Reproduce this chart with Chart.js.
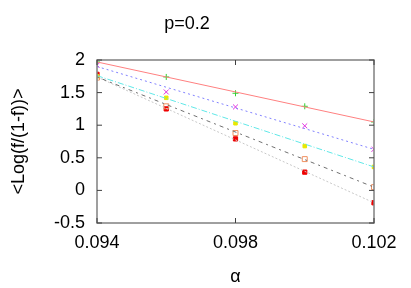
<html>
<head>
  <script src="https://cdn.jsdelivr.net/npm/chart.js@4.4.0/dist/chart.umd.min.js"></script>
  <style>
    body { margin: 0; background: #fff; }
    #wrap { width: 411px; height: 288px; }
  </style>
</head>
<body>
  <div id="wrap"><canvas id="myChart" width="411" height="288"></canvas></div>
</body>
<script>
  // alpha values where points were measured
  const alphas = [0.094, 0.096, 0.098, 0.100, 0.102];
  // measured <Log(f/(1-f))> per series
  const seriesA = [1.97, 1.74, 1.49, 1.29, 1.05];
  const seriesB = [1.92, 1.51, 1.28, 0.99, 0.63];
  const seriesC = [1.75, 1.42, 1.03, 0.68, 0.36];
  const seriesD = [1.73, 1.29, 0.88, 0.48, 0.05];
  const seriesE = [1.78, 1.25, 0.79, 0.28, -0.19];
  // fitted lines: value at alpha=0.094 and alpha=0.102
  const fitEnds = [0.094, 0.102];
  const fitA = [1.97, 1.05];
  const fitB = [1.90, 0.63];
  const fitC = [1.76, 0.36];
  const fitD = [1.74, 0.05];
  const fitE = [1.74, -0.19];
  const xTicks = [0.094, 0.098, 0.102];

  const pts = (xs, ys) => xs.map((x, i) => ({ x: x, y: ys[i] }));

  const fitLine = (ys, color, dash) => ({
    data: pts(fitEnds, ys), showLine: true, pointRadius: 0,
    borderColor: color, borderWidth: 1, borderDash: dash, fill: false
  });
  const markers = (ys, style, color, fillColor, r) => ({
    data: pts(alphas, ys), showLine: false, pointStyle: style,
    pointRadius: r, borderColor: color, backgroundColor: fillColor, pointBorderWidth: 1
  });

  // gnuplot style frame with inward ticks
  const framePlugin = {
    id: 'frame',
    afterDatasetsDraw(chart) {
      const c = chart.ctx, a = chart.chartArea;
      const xs = chart.scales.x, ys = chart.scales.y;
      c.save();
      c.strokeStyle = '#808080';
      c.lineWidth = 1.5;
      c.strokeRect(a.left, a.top, a.right - a.left, a.bottom - a.top);
      c.lineWidth = 1;
      c.strokeStyle = '#404040';
      ys.ticks.forEach(t => {
        const p = ys.getPixelForValue(t.value);
        c.beginPath();
        c.moveTo(a.left, p); c.lineTo(a.left + 5, p);
        c.moveTo(a.right, p); c.lineTo(a.right - 5, p);
        c.stroke();
      });
      xTicks.forEach(v => {
        const p = xs.getPixelForValue(v);
        c.beginPath();
        c.moveTo(p, a.bottom); c.lineTo(p, a.bottom - 5);
        c.moveTo(p, a.top); c.lineTo(p, a.top + 5);
        c.stroke();
      });
      c.restore();
    }
  };

  const font = { family: 'Liberation Sans', size: 18 };
  const ctx = document.getElementById('myChart').getContext('2d');
  new Chart(ctx, {
    type: 'scatter',
    data: {
      datasets: [
        fitLine(fitA, '#ff8080', []),
        fitLine(fitB, '#8080ff', [2, 3]),
        fitLine(fitC, '#60e8e8', [6, 2, 1, 2]),
        fitLine(fitD, '#707070', [2, 4, 4, 4]),
        fitLine(fitE, '#c8c8c8', [2, 2]),
        markers(seriesA, 'cross', '#30d030', '#30d030', 3),
        markers(seriesB, 'crossRot', '#e030e0', '#e030e0', 3.5),
        markers(seriesC, 'rect', '#e8e800', '#e8e800', 2.5),
        markers(seriesD, 'rect', '#f09060', 'rgba(0,0,0,0)', 3.5),
        markers(seriesE, 'rect', '#ee0000', '#ee0000', 3)
      ]
    },
    options: {
      animation: false,
      responsive: false,
      layout: { padding: { left: 0, right: 37, top: 0, bottom: 0 } },
      plugins: {
        legend: { display: false },
        tooltip: { enabled: false },
        title: {
          display: true, text: 'p=0.2', color: '#000',
          font: { family: 'Liberation Sans', size: 18, weight: 'normal' },
          padding: { top: 13, bottom: 25.4 }
        }
      },
      scales: {
        x: {
          type: 'linear', min: 0.094, max: 0.102,
          afterBuildTicks: s => { s.ticks = xTicks.map(v => ({ value: v })); },
          afterFit: s => { s.height = 65; },
          grid: { display: false, drawTicks: false },
          border: { display: false },
          ticks: { color: '#000', font: font, padding: 9, maxRotation: 0,
            callback: v => v.toFixed(3) },
          title: { display: true, text: 'α', color: '#000', font: font, padding: { top: 0, bottom: 0 } }
        },
        y: {
          min: -0.5, max: 2,
          ticks: { stepSize: 0.5, color: '#000', font: font, padding: 12,
            callback: v => String(Math.round(v * 10) / 10) },
          afterFit: s => { s.width = 97; },
          grid: { display: false, drawTicks: false },
          border: { display: false },
          title: { display: true, text: '<Log(f/(1-f))>', color: '#000', font: font, padding: { top: 8 } }
        }
      }
    },
    plugins: [framePlugin]
  });
</script>
</html>
